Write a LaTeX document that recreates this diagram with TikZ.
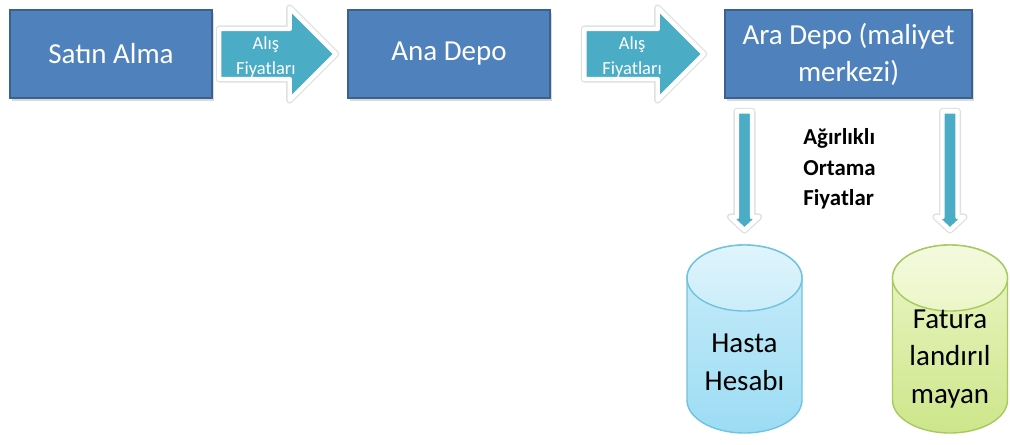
\documentclass[tikz,border=0pt]{standalone}
\usepackage{fontspec}
\setmainfont{Carlito}
\usetikzlibrary{calc,shadows}

\definecolor{boxblue}{HTML}{4F81BD}
\definecolor{boxline}{HTML}{3A6190}
\definecolor{arrowteal}{HTML}{4BACC6}
\definecolor{cylblueA}{HTML}{CBEDF9}
\definecolor{cylblueB}{HTML}{9CDCF4}
\definecolor{cylblueL}{HTML}{6EC3E0}
\definecolor{cylgreenA}{HTML}{ECF6C8}
\definecolor{cylgreenB}{HTML}{CDE68A}
\definecolor{cylgreenL}{HTML}{A7C95E}

\tikzset{
	procbox/.style={fill=boxblue, draw=boxline, line width=1.5pt, text=white,
		font=\fontsize{16.5}{21}\selectfont, align=center, minimum height=1.76cm,
		drop shadow={shadow xshift=1pt, shadow yshift=-1.5pt, opacity=0.3}},
	arrowglow/.style={fill=arrowteal, draw=white, line width=2.5pt, line join=round,
		preaction={draw=black!12, line width=4pt, line join=round}},
	arrowlabel/.style={text=white, font=\fontsize{10.5}{14.5}\selectfont, align=center, inner sep=0pt},
	avgtext/.style={font=\bfseries\fontsize{13}{17.5}\selectfont, align=left, inner sep=0pt},
	cyltext/.style={font=\fontsize{16.5}{21.5}\selectfont, align=center, inner sep=0pt},
}

% Blockpfeil nach rechts: #1 Anfang, #2 Spitze
\newcommand{\rightarrowblock}[2]{%
	\draw[arrowglow] ($(#1)+(0,25)$) -- ($(#2)+(-46,25)$) -- ($(#2)+(-46,46)$) -- (#2)
		-- ($(#2)+(-46,-46)$) -- ($(#2)+(-46,-25)$) -- ($(#1)+(0,-25)$) -- cycle;}
% Blockpfeil nach unten: #1 Anfang, #2 Spitze
\newcommand{\downarrowblock}[2]{%
	\draw[arrowglow] ($(#1)+(-7.5,0)$) -- ($(#2)+(-7.5,13)$) -- ($(#2)+(-14,13)$) -- (#2)
		-- ($(#2)+(14,13)$) -- ($(#2)+(7.5,13)$) -- ($(#1)+(7.5,0)$) -- cycle;}
% Zylinder: #1 oberer Rand (Mitte), #2 hell, #3 dunkel, #4 Linie
\newcommand{\drum}[4]{%
	\draw[#4, line width=0.8pt, top color=#2, bottom color=#3] ($(#1)+(-57.5,-33)$) -- ($(#1)+(-57.5,-155)$)
		arc[start angle=180, end angle=360, x radius=57.5, y radius=33] -- ($(#1)+(57.5,-33)$)
		arc[start angle=0, end angle=180, x radius=57.5, y radius=33] -- cycle;
	\draw[#4, line width=0.8pt, top color=#2!60!white, bottom color=#2] ($(#1)+(0,-33)$) ellipse [x radius=57.5, y radius=33];}

\begin{document}
\begin{tikzpicture}[x=0.02cm, y=0.02cm]
	\useasboundingbox (0,0) rectangle (1010,-444); % Rand wie im Original

	\node[procbox, minimum width=4.04cm] (buy) at (111,-54) {Satın Alma};
	\node[procbox, minimum width=4.04cm] (main) at (449,-54) {Ana Depo};
	\node[procbox, minimum width=4.94cm] (sub) at (848.5,-54) {Ara Depo (maliyet\\merkezi)};

	\coordinate (a1s) at ($(buy.east)+(6,0)$);
	\coordinate (a1t) at ($(main.west)+(-11,0)$);
	\rightarrowblock{a1s}{a1t}
	\node[arrowlabel] (lab1) at ($(a1s)!0.4!(a1t)+(0,-3)$) {Alış\\Fiyatları};

	\coordinate (a2s) at ($(main.east)+(33,0)$);
	\coordinate (a2t) at ($(sub.west)+(-20,0)$);
	\rightarrowblock{a2s}{a2t}
	\node[arrowlabel] (lab2) at ($(a2s)!0.4!(a2t)+(0,-3)$) {Alış\\Fiyatları};

	\coordinate (cylA) at (744.5,-245);
	\coordinate (cylB) at (950,-245);

	\coordinate (d1s) at ($(cylA |- sub.south)+(0,-12)$);
	\coordinate (d1t) at ($(cylA)+(0,15)$);
	\downarrowblock{d1s}{d1t}
	\coordinate (d2s) at ($(cylB |- sub.south)+(0,-12)$);
	\coordinate (d2t) at ($(cylB)+(0,15)$);
	\downarrowblock{d2s}{d2t}

	\node[avgtext, anchor=west] (avg) at (803,-169) {Ağırlıklı\\Ortama\\Fiyatlar};

	\drum{cylA}{cylblueA}{cylblueB}{cylblueL}
	\drum{cylB}{cylgreenA}{cylgreenB}{cylgreenL}
	\node[cyltext] (patient) at (744.5,-362) {Hasta\\Hesabı};
	\node[cyltext] (unbilled) at (950,-359) {Fatura\\landırıl\\mayan};

	%\draw[help lines, step=50] (0,-444) grid (1010,0);
\end{tikzpicture}
\end{document}
